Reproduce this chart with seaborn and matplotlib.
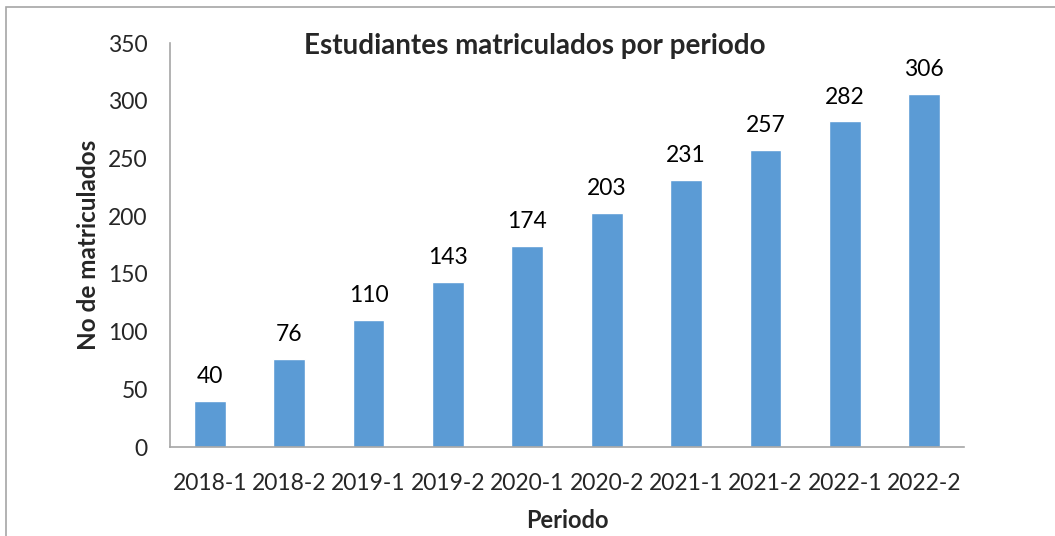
import matplotlib
matplotlib.use("Agg")
import matplotlib.pyplot as plt
import seaborn as sns
import pandas as pd
from matplotlib.patches import Rectangle

periodos = ["2018-1", "2018-2", "2019-1", "2019-2", "2020-1",
            "2020-2", "2021-1", "2021-2", "2022-1", "2022-2"]
matriculados = [40, 76, 110, 143, 174, 203, 231, 257, 282, 306]
y_ticks = [0, 50, 100, 150, 200, 250, 300, 350]

sns.set_theme(style="white")
plt.rcParams["font.family"] = ["Lato", "DejaVu Sans"]

W, H = 1055, 536
fig = plt.figure(figsize=(W / 100, H / 100), dpi=100)
fig.patch.set_facecolor("white")

# chart-area frame (runs past the right and bottom edges)
fig.patches.append(Rectangle((6 / W, -0.1), 1.2, 1.1 - 7 / H,
                             transform=fig.transFigure, fill=False,
                             edgecolor="#A6A6A6", linewidth=1.2))

ax = fig.add_axes([170 / W, 1 - 447 / H, 794 / W, 404 / H])
df = pd.DataFrame({"Periodo": periodos, "Matriculados": matriculados})
sns.barplot(data=df, x="Periodo", y="Matriculados", color="#5B9BD5",
            width=0.4, saturation=1, ax=ax)

ax.set_xlim(-0.5, len(periodos) - 0.5)
ax.set_ylim(0, 350)
ax.set_yticks(y_ticks)
ax.set_yticklabels([str(t) for t in y_ticks], fontsize=16.5)

# category ticks sit between bars; labels on minor ticks at bar centres
ax.set_xticks([i - 0.5 for i in range(len(periodos) + 1)])
ax.set_xticklabels([])
ax.set_xticks(range(len(periodos)), minor=True)
ax.set_xticklabels(periodos, minor=True, fontsize=16.5)
ax.tick_params(axis="x", which="major", direction="out", length=8,
               width=1.2, color="#A6A6A6")
ax.tick_params(axis="x", which="minor", length=0, pad=19)
ax.tick_params(axis="y", direction="out", length=7, width=1.2,
               color="#A6A6A6", pad=9)

for side in ["top", "right"]:
    ax.spines[side].set_visible(False)
for side in ["left", "bottom"]:
    ax.spines[side].set_color("#A6A6A6")
    ax.spines[side].set_linewidth(1.2)

for i, v in enumerate(matriculados):
    ax.annotate(str(v), (i, v), xytext=(0, 10), textcoords="offset points",
                ha="center", va="bottom", fontsize=16.5, color="black")

ax.set_xlabel("")
ax.set_ylabel("")
fig.text(88 / W, 1 - 245 / H, "No de matriculados", rotation=90,
         ha="center", va="center", fontsize=17.5, fontweight="bold")
fig.text(567 / W, 1 - 521 / H, "Periodo", ha="center", va="center",
         fontsize=17, fontweight="bold")
fig.text(535 / W, 1 - 46 / H, "Estudiantes matriculados por periodo",
         ha="center", va="center", fontsize=20, fontweight="bold")

fig.savefig("out.png", dpi=100)
